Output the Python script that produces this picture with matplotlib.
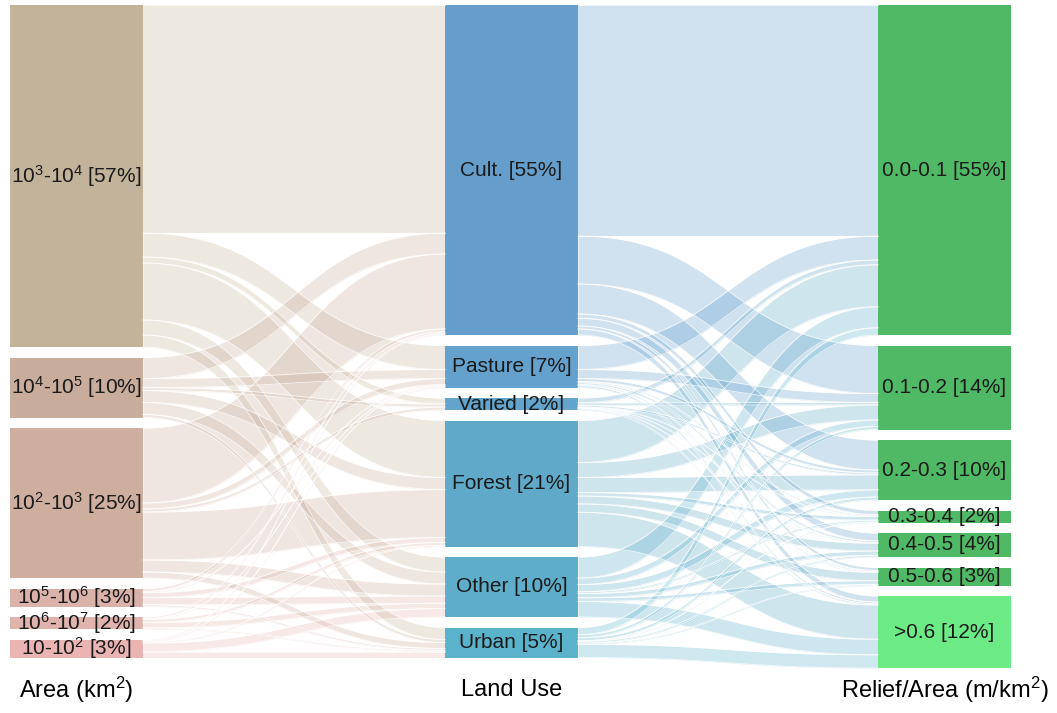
import numpy as np
import matplotlib.pyplot as plt
from matplotlib.patches import Rectangle

plt.rcParams['font.family'] = ['Liberation Sans', 'DejaVu Sans']
plt.rcParams['mathtext.default'] = 'regular'

# node names and shares (% of catchments)
area_labels = [r'10$^3$-10$^4$', r'10$^4$-10$^5$', r'10$^2$-10$^3$',
               r'10$^5$-10$^6$', r'10$^6$-10$^7$', r'10-10$^2$']
area_pct = [57, 10, 25, 3, 2, 3]
land_labels = ['Cult.', 'Pasture', 'Varied', 'Forest', 'Other', 'Urban']
land_pct = [55, 7, 2, 21, 10, 5]
relief_labels = ['0.0-0.1', '0.1-0.2', '0.2-0.3', '0.3-0.4', '0.4-0.5', '0.5-0.6', '>0.6']
relief_pct = [55, 14, 10, 2, 4, 3, 12]

# flows: rows = area class, cols = land use
area_to_land = np.array([
    [38.0, 4.0, 1.0, 9.5, 2.5, 2.0],
    [3.5, 1.5, 0.5, 2.0, 2.0, 0.5],
    [12.5, 1.0, 0.5, 8.0, 2.0, 1.0],
    [0.5, 0.2, 0.0, 0.8, 1.2, 0.3],
    [0.3, 0.1, 0.0, 0.5, 0.9, 0.2],
    [0.2, 0.2, 0.0, 0.2, 1.4, 1.0],
])
# flows: rows = land use, cols = relief/area class
land_to_relief = np.array([
    [38.5, 8.0, 5.0, 0.7, 1.3, 0.5, 1.0],
    [4.0, 1.5, 0.5, 0.2, 0.3, 0.2, 0.3],
    [0.8, 0.4, 0.3, 0.1, 0.1, 0.1, 0.2],
    [7.0, 2.5, 2.5, 0.6, 1.3, 1.4, 5.7],
    [3.5, 1.1, 1.2, 0.3, 0.7, 0.6, 2.6],
    [1.2, 0.5, 0.5, 0.1, 0.3, 0.2, 2.2],
])

area_colors = ['#c4b39b', '#c9ad9c', '#cdae9f', '#dbb2aa', '#e0b3ac', '#e9b4b1']
land_colors = ['#669ecb', '#64a1cc', '#62a4cb', '#60a9c9', '#5eadca', '#5bb3cb']
relief_colors = ['#50b965'] * 6 + ['#6bea86']

fig = plt.figure(figsize=(10.57, 7.13), dpi=100)
ax = fig.add_axes([0, 0, 1, 1])
ax.set_xlim(0, 1057)
ax.set_ylim(713, 0)
ax.axis('off')

col_x = [10, 445, 878]
node_w = 133
top, gap = 5, 10.5
scale = 6.0  # px per percent


def stack(values):
    ys, y = [], top
    for v in values:
        ys.append(y)
        y += v * scale + gap
    return ys


area_y = stack(area_to_land.sum(axis=1))
land_y = stack(area_to_land.sum(axis=0))
relief_y = stack(land_to_relief.sum(axis=0))


def band(x0, x1, y0, y1, h, color):
    t = np.linspace(0, 1, 80)
    xm = (x0 + x1) / 2
    x = (1 - t)**3 * x0 + 3 * (1 - t)**2 * t * xm + 3 * (1 - t) * t**2 * xm + t**3 * x1
    y = y0 + (y1 - y0) * (3 * t**2 - 2 * t**3)
    ax.fill_between(x, y, y + h, color=color, alpha=0.3, lw=0)
    ax.plot(x, y, color='white', lw=0.6, alpha=0.8)
    ax.plot(x, y + h, color='white', lw=0.6, alpha=0.8)


def links(flows, src_y, dst_y, x0, x1, colors):
    n_src, n_dst = flows.shape
    src_off = list(src_y)
    dst_off = list(dst_y)
    # source side ordered by target, target side ordered by source
    starts = np.zeros_like(flows)
    ends = np.zeros_like(flows)
    for i in range(n_src):
        for j in range(n_dst):
            starts[i, j] = src_off[i]
            src_off[i] += flows[i, j] * scale
    for j in range(n_dst):
        for i in range(n_src):
            ends[i, j] = dst_off[j]
            dst_off[j] += flows[i, j] * scale
    for i in range(n_src):
        for j in range(n_dst):
            if flows[i, j] > 0:
                band(x0, x1, starts[i, j], ends[i, j], flows[i, j] * scale, colors[i])


links(area_to_land, area_y, land_y, col_x[0] + node_w, col_x[1], area_colors)
links(land_to_relief, land_y, relief_y, col_x[1] + node_w, col_x[2], land_colors)


def nodes(x, ys, values, labels, pcts, colors):
    for y, v, lab, p, c in zip(ys, values, labels, pcts, colors):
        h = v * scale
        ax.add_patch(Rectangle((x, y), node_w, h, facecolor=c, edgecolor='none'))
        ax.text(x + node_w / 2, y + h / 2, f'{lab} [{p}%]', ha='center', va='center',
                fontsize=15, color='#1a1a1a')


nodes(col_x[0], area_y, area_to_land.sum(axis=1), area_labels, area_pct, area_colors)
nodes(col_x[1], land_y, area_to_land.sum(axis=0), land_labels, land_pct, land_colors)
nodes(col_x[2], relief_y, land_to_relief.sum(axis=0), relief_labels, relief_pct, relief_colors)

ax.text(col_x[0] + node_w / 2, 690, r'Area (km$^2$)', ha='center', va='center', fontsize=17)
ax.text(col_x[1] + node_w / 2, 690, 'Land Use', ha='center', va='center', fontsize=17)
ax.text(col_x[2] + node_w / 2, 690, r'Relief/Area (m/km$^2$)', ha='center', va='center', fontsize=17)

fig.savefig('out.png', dpi=100)
